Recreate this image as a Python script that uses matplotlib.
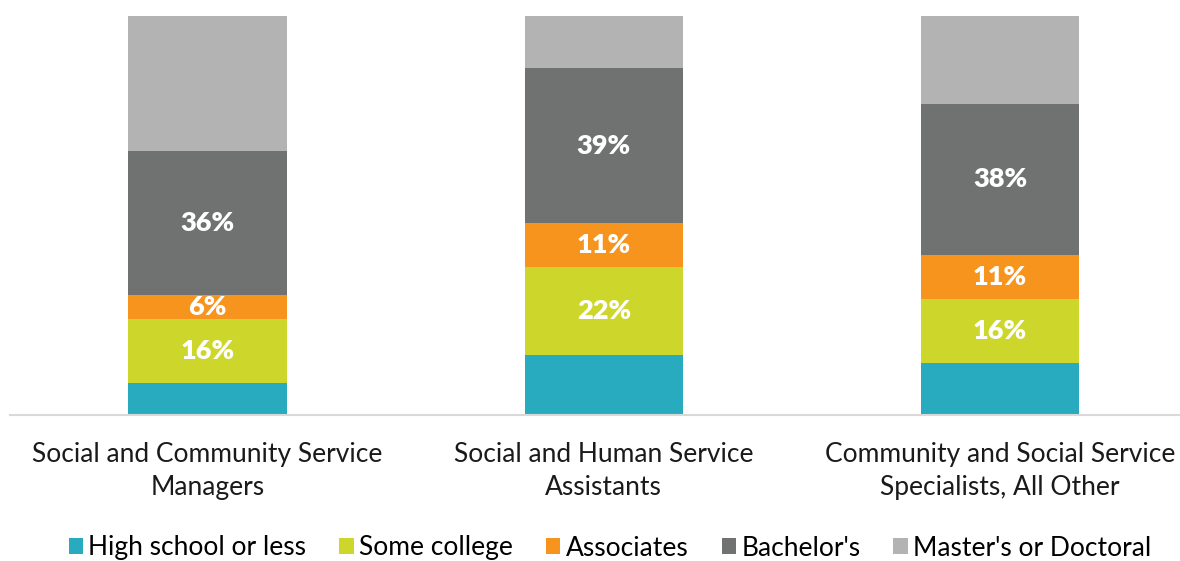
import matplotlib.pyplot as plt
import numpy as np

plt.rcParams["font.family"] = ["Lato", "DejaVu Sans"]

occupations = [
    "Social and Community Service\nManagers",
    "Social and Human Service\nAssistants",
    "Community and Social Service\nSpecialists, All Other",
]
levels = ["High school or less", "Some college", "Associates", "Bachelor's",
          "Master's or Doctoral"]

high_school = [8, 15, 13]
some_college = [16, 22, 16]
associates = [6, 11, 11]
bachelors = [36, 39, 38]
masters = [34, 13, 22]

colors = ["#29abbf", "#cdd72b", "#f7941e", "#707271", "#b2b3b2"]
# only the middle three segments carry value labels
labelled = [False, True, True, True, False]

W, H = 1180, 561
fig = plt.figure(figsize=(W / 100, H / 100), dpi=100)
ax = fig.add_axes([9.5 / W, (H - 414.5) / H, 1188.5 / W, 398.5 / H])

x = np.arange(len(occupations))
bottom = np.zeros(len(occupations))
series = [high_school, some_college, associates, bachelors, masters]
for vals, color, name, show in zip(series, colors, levels, labelled):
    vals = np.array(vals, dtype=float)
    bars = ax.bar(x, vals, 0.40, bottom=bottom, color=color, label=name)
    if show:
        for xi, b, v in zip(x, bottom, vals):
            ax.text(xi, b + v / 2, f"{v:.0f}%", ha="center", va="center",
                    color="white", fontsize=19.5, fontweight="heavy")
    bottom += vals

ax.set_xlim(-0.5, 2.5)
ax.set_ylim(0, 100)
ax.set_xticks(x)
ax.set_xticklabels(occupations, fontsize=19, color="#1a1a1a", linespacing=1.4)
ax.tick_params(axis="x", length=0, pad=20)
ax.set_yticks([])
for side in ["top", "right", "left"]:
    ax.spines[side].set_visible(False)
ax.spines["bottom"].set_color("#d9d9d9")
ax.spines["bottom"].set_linewidth(1.5)

fig.legend(loc="center", bbox_to_anchor=(610 / W, 1 - 548 / H), ncol=5,
           frameon=False, fontsize=19, handlelength=0.55, handleheight=0.55,
           handletextpad=0.2, columnspacing=1.25)

fig.savefig("out.png", dpi=100)
